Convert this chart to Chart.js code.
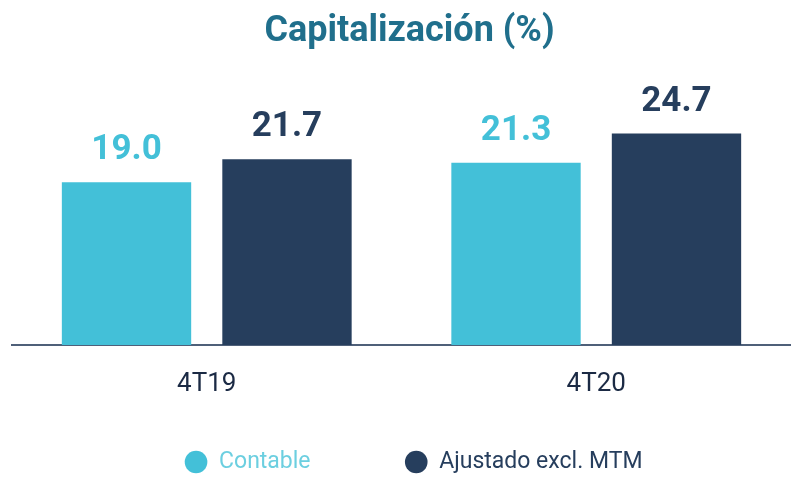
<!DOCTYPE html>
<html>
<head>
<meta charset="utf-8">
<script src="https://cdn.jsdelivr.net/npm/chart.js@4"></script>
<style>
  html, body { margin: 0; padding: 0; background: #ffffff; }
  #wrap { width: 791px; height: 478px; }
</style>
</head>
<body>
<div id="wrap"><canvas id="capChart"></canvas></div>
<script>
// ---------------- DATA ----------------
const categories = ["4T19", "4T20"];
const seriesNames = ["Contable", "Ajustado excl. MTM"];
const contable = [19.0, 21.3];
const ajustado = [21.7, 24.7];
const barColors = ["#43c0d8", "#263e5d"];
const legendTextColors = ["#6ccfe0", "#263e5d"];

// ---------------- VALUE LABELS ----------------
const valueLabels = {
  id: "valueLabels",
  afterDatasetsDraw(chart) {
    const ctx = chart.ctx;
    ctx.save();
    ctx.font = "bold 35px Roboto";
    ctx.textAlign = "center";
    ctx.textBaseline = "alphabetic";
    chart.data.datasets.forEach((ds, i) => {
      const meta = chart.getDatasetMeta(i);
      ctx.fillStyle = ds.backgroundColor;
      meta.data.forEach((bar, j) => {
        ctx.fillText(ds.data[j].toFixed(1), bar.x, bar.y - 23);
      });
    });
    ctx.restore();
  },
};

// title and legend sit a bit right of centre in the original
const nudgeBoxes = {
  id: "nudgeBoxes",
  afterLayout(chart) {
    chart.legend.left += 12;
    chart.legend.right += 12;
    chart.titleBlock.left += 8;
    chart.titleBlock.right += 8;
  },
};

// ---------------- CHART ----------------
new Chart(document.getElementById("capChart"), {
  type: "bar",
  data: {
    labels: categories,
    datasets: [
      { label: seriesNames[0], data: contable, backgroundColor: barColors[0] },
      { label: seriesNames[1], data: ajustado, backgroundColor: barColors[1] },
    ],
  },
  options: {
    responsive: true,
    maintainAspectRatio: false,
    animation: false,
    datasets: {
      bar: { categoryPercentage: 0.824, barPercentage: 0.806 },
    },
    layout: { padding: { left: 12, right: 0, top: 0, bottom: 0 } },
    scales: {
      x: {
        grid: { display: false, drawTicks: false },
        border: { display: true, color: "#4f6079", width: 2 },
        ticks: { color: "#1b2a44", font: { family: "Roboto", size: 26 }, padding: 24 },
        afterFit(scale) { scale.height = 85.5; },
      },
      y: { display: false, min: 0, max: 30 },
    },
    plugins: {
      title: {
        display: true,
        text: "Capitalización (%)",
        color: "#206f8c",
        font: { family: "Roboto", size: 36, weight: "bold" },
        padding: { top: 10, bottom: 35 },
      },
      legend: {
        position: "bottom",
        maxHeight: 47.5,
        labels: {
          usePointStyle: true,
          boxWidth: 23,
          boxHeight: 16,
          padding: 20,
          font: { family: "Roboto", size: 23 },
          generateLabels(chart) {
            return chart.data.datasets.map((ds, i) => ({
              text: i === 0 ? ds.label + "             " : ds.label,
              fillStyle: ds.backgroundColor,
              strokeStyle: ds.backgroundColor,
              fontColor: legendTextColors[i],
              lineWidth: 0,
              pointStyle: "circle",
              datasetIndex: i,
            }));
          },
        },
      },
      tooltip: { enabled: false },
    },
  },
  plugins: [valueLabels, nudgeBoxes],
});
</script>
</body>
</html>
